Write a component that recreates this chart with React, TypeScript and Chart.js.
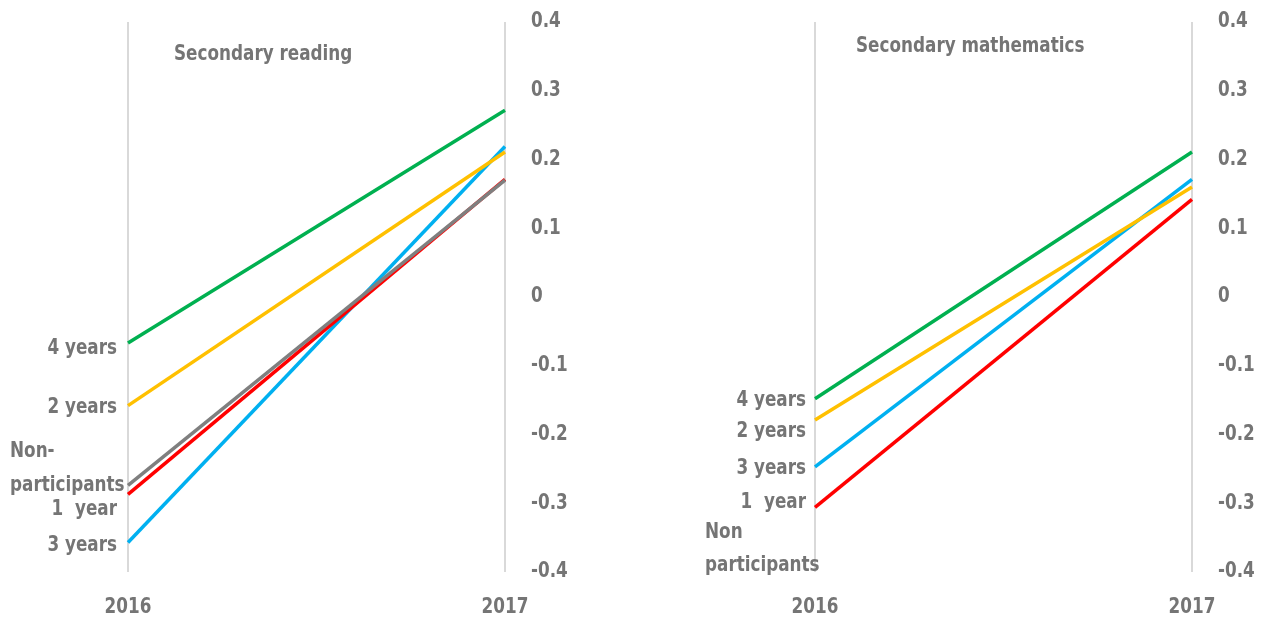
import React, { useEffect, useRef } from "react";
import { Chart, registerables } from "chart.js";

Chart.register(...registerables);

const years = ["2016", "2017"];
const yTicks = [0.4, 0.3, 0.2, 0.1, 0, -0.1, -0.2, -0.3, -0.4];

// Secondary reading
const readingNon = [-0.274, 0.17];
const reading1 = [-0.287, 0.171];
const reading2 = [-0.158, 0.211];
const reading3 = [-0.357, 0.219];
const reading4 = [-0.067, 0.2715];

const readingLabels = ["4 years", "2 years", "Non-", "participants", "1  year", "3 years"];
const readingLabelY = [-0.0755, -0.161, -0.225, -0.274, -0.309, -0.362];
const readingLabelLeftAligned = [false, false, true, true, false, false];

// Secondary mathematics
const math1 = [-0.306, 0.142];
const math2 = [-0.179, 0.16];
const math3 = [-0.247, 0.171];
const math4 = [-0.148, 0.211];

const mathLabels = ["4 years", "2 years", "3 years", "1  year", "Non", "participants"];
const mathLabelY = [-0.15, -0.196, -0.25, -0.299, -0.343, -0.391];
const mathLabelLeftAligned = [false, false, false, false, true, true];

const GREEN = "#00b050";
const YELLOW = "#ffc000";
const BLUE = "#00b0f0";
const RED = "#ff0000";
const GRAY = "#7f7f7f";
const TEXT = "#757575";
const FONT = "'DejaVu Sans Condensed', 'Liberation Sans Narrow', 'Open Sans', sans-serif";
const FS = 21;
const SX = 0.89;

function ds(data: number[], color: string) {
  return {
    data,
    borderColor: color,
    backgroundColor: color,
    borderWidth: 3.5,
    pointRadius: 0,
    tension: 0,
  };
}

function drawText(ctx: CanvasRenderingContext2D, t: string, x: number, y: number, align: CanvasTextAlign) {
  ctx.save();
  ctx.translate(x, y);
  ctx.scale(SX, 1);
  ctx.textAlign = align;
  ctx.fillText(t, 0, 0);
  ctx.restore();
}

interface PanelProps {
  title: string;
  titleDx: number;
  titleDy: number;
  datasets: any[];
  labels: string[];
  labelY: number[];
  leftAligned: boolean[];
  leftPad: number;
  rightWidth: number;
  width: number;
  left: number;
  labelRightX: number;
  labelLeftX: number;
}

function Panel(p: PanelProps) {
  const ref = useRef<HTMLCanvasElement>(null);
  useEffect(() => {
    if (!ref.current) return;
    const annot = {
      id: "annot",
      afterDraw(chart: any) {
        const ctx = chart.ctx as CanvasRenderingContext2D;
        const ys = chart.scales.y;
        const xs = chart.scales.x;
        const ca = chart.chartArea;
        ctx.save();
        ctx.fillStyle = TEXT;
        ctx.font = `bold ${FS}px ${FONT}`;
        ctx.textBaseline = "middle";
        drawText(ctx, p.title, ca.left + p.titleDx, ca.top + p.titleDy, "left");
        p.labels.forEach((t, i) => {
          const y = ys.getPixelForValue(p.labelY[i]);
          if (p.leftAligned[i]) drawText(ctx, t, p.labelLeftX, y, "left");
          else drawText(ctx, t, ca.left + p.labelRightX, y, "right");
        });
        yTicks.forEach((v) => {
          drawText(ctx, String(v), ca.right + 26, ys.getPixelForValue(v), "left");
        });
        years.forEach((yr, i) => {
          drawText(ctx, yr, xs.getPixelForValue(i), ca.bottom + 36, "center");
        });
        ctx.restore();
      },
    };
    const chart = new Chart(ref.current, {
      type: "line",
      data: { labels: years, datasets: p.datasets },
      options: {
        responsive: false,
        animation: false,
        layout: { padding: { left: p.leftPad, top: 22, right: 0, bottom: 0 } },
        plugins: { legend: { display: false }, tooltip: { enabled: false } },
        scales: {
          x: {
            offset: false,
            grid: { display: true, color: "#d9d9d9", lineWidth: 2, drawTicks: false },
            border: { display: false },
            ticks: { display: false },
            afterFit: (s: any) => {
              s.height = 52;
              s.paddingLeft = 0;
              s.paddingRight = 0;
            },
          },
          y: {
            position: "right",
            min: -0.4,
            max: 0.4,
            afterBuildTicks: (s: any) => { s.ticks = yTicks.map((v) => ({ value: v })); },
            grid: { display: false, drawTicks: false },
            border: { display: false },
            ticks: { display: false },
            afterFit: (s: any) => {
              s.width = p.rightWidth;
              s.paddingTop = 0;
              s.paddingBottom = 0;
            },
          },
        },
      },
      plugins: [annot],
    });
    return () => chart.destroy();
  }, []);
  return (
    <canvas
      ref={ref}
      width={p.width}
      height={624}
      style={{ position: "absolute", left: p.left, top: 0, width: p.width, height: 624 }}
    />
  );
}

export default function App() {
  return (
    <div style={{ position: "fixed", left: 0, top: 0, width: 1262, height: 624, background: "#fff" }}>
      <Panel
        title="Secondary reading"
        titleDx={46}
        titleDy={33}
        datasets={[ds(readingNon, GRAY), ds(reading1, RED), ds(reading2, YELLOW), ds(reading4, GREEN), ds(reading3, BLUE)]}
        labels={readingLabels}
        labelY={readingLabelY}
        leftAligned={readingLabelLeftAligned}
        leftPad={128}
        rightWidth={126}
        width={631}
        left={0}
        labelRightX={-11}
        labelLeftX={10}
      />
      <Panel
        title="Secondary mathematics"
        titleDx={41}
        titleDy={25}
        datasets={[ds(math1, RED), ds(math2, YELLOW), ds(math3, BLUE), ds(math4, GREEN)]}
        labels={mathLabels}
        labelY={mathLabelY}
        leftAligned={mathLabelLeftAligned}
        leftPad={184}
        rightWidth={70}
        width={631}
        left={631}
        labelRightX={-9}
        labelLeftX={74}
      />
    </div>
  );
}
